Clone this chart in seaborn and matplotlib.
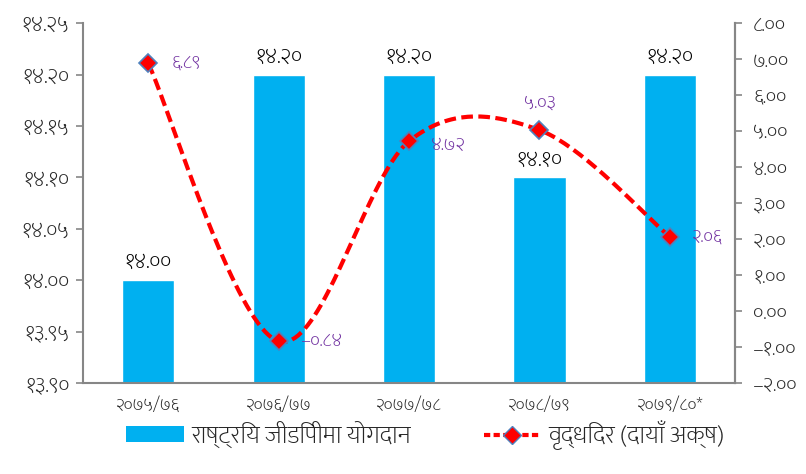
import matplotlib
matplotlib.use("Agg")
import matplotlib.pyplot as plt
from matplotlib.lines import Line2D
from matplotlib.patches import Patch
import numpy as np
import pandas as pd
import seaborn as sns

# fiscal years (Nepali calendar) and values
years = ["२०७५/७६", "२०७६/७७", "२०७७/७८", "२०७८/७९", "२०७९/८०*"]
gdp_share = [14.00, 14.20, 14.20, 14.10, 14.20]
growth = [6.89, -0.84, 4.72, 5.03, 2.06]

bar_label = "राष्ट्रिय जीडिपीमा योगदान"
line_label = "वृद्धिदर (दायाँ अक्ष)"

BAR_COLOR = "#00B0F0"
LINE_COLOR = "#FF0000"
EDGE_COLOR = "#4F81BD"
LABEL_PURPLE = "#7030A0"
AXIS_GRAY = "#868686"

DEV_DIGITS = str.maketrans("0123456789-", "०१२३४५६७८९–")


def dev(value: float) -> str:
    return f"{value:.2f}".translate(DEV_DIGITS)


def smooth_curve(y, steps=40):
    """Catmull-Rom curve through the points, like Excel's smoothed line."""
    pts = np.column_stack([np.arange(len(y)), y]).astype(float)
    padded = np.vstack([pts[0], pts, pts[-1]])
    out = []
    for i in range(len(pts) - 1):
        p0, p1, p2, p3 = padded[i], padded[i + 1], padded[i + 2], padded[i + 3]
        t = np.linspace(0, 1, steps, endpoint=(i == len(pts) - 2))[:, None]
        seg = 0.5 * ((2 * p1) + (-p0 + p2) * t
                     + (2 * p0 - 5 * p1 + 4 * p2 - p3) * t ** 2
                     + (-p0 + 3 * p1 - 3 * p2 + p3) * t ** 3)
        out.append(seg)
    out = np.vstack(out)
    return out[:, 0], out[:, 1]


sns.set_theme(style="white")
plt.rcParams["font.family"] = ["Mukta", "Noto Sans Devanagari", "DejaVu Sans"]
plt.rcParams["font.weight"] = "light"

df = pd.DataFrame({"year": years, "share": gdp_share, "growth": growth})

fig = plt.figure(figsize=(8.06, 4.74), dpi=100)
ax = fig.add_axes([0.103, 0.192, 0.809, 0.759])

sns.barplot(data=df, x="year", y="share", color=BAR_COLOR, saturation=1,
            width=0.4, ax=ax)
ax.set_ylim(13.90, 14.25)
ax.set_yticks(np.arange(13.90, 14.2501, 0.05))
ax.set_yticklabels([dev(v) for v in ax.get_yticks()], fontsize=16)
ax.set_xlabel("")
ax.set_ylabel("")
ax.set_xlim(-0.5, len(years) - 0.5)
ax.set_xticks(range(len(years)))
ax.set_xticklabels(years, fontsize=13)
ax.set_xticks(np.arange(-0.5, len(years)), minor=True)
ax.tick_params(axis="x", which="major", length=0, pad=10)
ax.tick_params(axis="x", which="minor", length=6, color=AXIS_GRAY, width=1.2)
ax.tick_params(axis="y", length=5, color=AXIS_GRAY, width=1.2, pad=5)

for i, v in enumerate(gdp_share):
    ax.annotate(dev(v), (i, v), xytext=(0, 5), textcoords="offset points",
                ha="center", va="bottom", fontsize=16, color="black")

ax2 = ax.twinx()
xs, ys = smooth_curve(growth)
sns.lineplot(x=xs, y=ys, ax=ax2, color=LINE_COLOR, linewidth=3,
             dashes=False, sort=False)
ax2.lines[-1].set_dashes((2.8, 1.3))
ax2.plot(range(len(growth)), growth, linestyle="none", marker="D",
         markersize=9, markerfacecolor=LINE_COLOR, markeredgecolor=EDGE_COLOR,
         markeredgewidth=1.2)
ax2.set_ylim(-2, 8)
ax2.set_yticks(np.arange(-2, 8.01, 1))
ax2.set_yticklabels([dev(v) for v in ax2.get_yticks()], fontsize=15)
ax2.tick_params(axis="y", length=5, color=AXIS_GRAY, width=1.2, pad=8)

offsets = [(17, 0, "left", "center"), (16, 0, "left", "center"),
           (16, -3, "left", "center"), (0, 13, "center", "bottom"),
           (16, 0, "left", "center")]
for i, (v, (dx, dy, ha, va)) in enumerate(zip(growth, offsets)):
    ax2.annotate(dev(v), (i, v), xytext=(dx, dy),
                 textcoords="offset points", ha=ha, va=va, fontsize=14,
                 color=LABEL_PURPLE)

for a in (ax, ax2):
    for spine in a.spines.values():
        spine.set_color(AXIS_GRAY)
        spine.set_linewidth(1.5)
    a.spines["top"].set_visible(False)
ax2.spines["left"].set_visible(False)
ax2.spines["bottom"].set_visible(False)

handles = [
    Patch(facecolor=BAR_COLOR, edgecolor="none"),
    Line2D([0], [0], color=LINE_COLOR, linewidth=3, dashes=(1.5, 0.8),
           marker="D", markersize=9, markerfacecolor=LINE_COLOR,
           markeredgecolor=EDGE_COLOR),
]
fig.legend(handles, [bar_label, line_label], loc="center",
           bbox_to_anchor=(0.528, 0.082), ncol=2, frameon=False, fontsize=18,
           handlelength=2.3, handleheight=0.6, columnspacing=2.9,
           handletextpad=0.3)

fig.savefig("out.png", dpi=100)
